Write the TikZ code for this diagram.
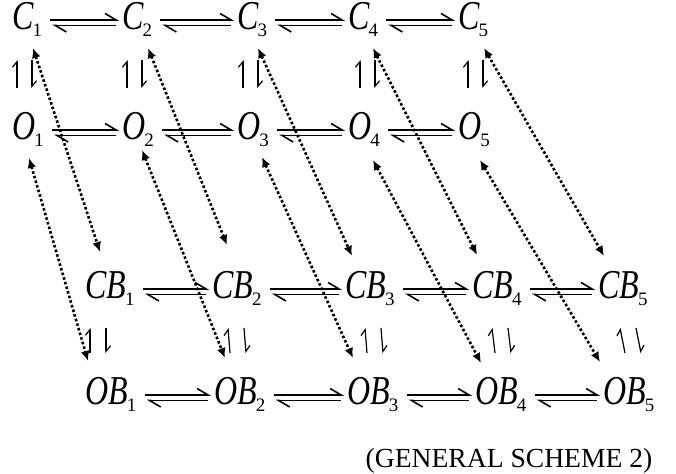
\documentclass[tikz,border=0pt]{standalone}
\usepackage{fontspec}
\setmainfont{Liberation Serif}
\newfontfamily\specfont{Liberation Serif}[FakeStretch=0.78]
\usetikzlibrary{arrows.meta, calc, positioning}

\newcommand{\spec}[2]{{\itshape #1}\kern-0.6pt\raisebox{-3.5pt}{\rmfamily\fontsize{9.5}{10}\selectfont #2}}

\tikzset{
  species/.style={inner sep=0pt, anchor=base west, font=\specfont\fontsize{20.5}{25}\selectfont},
  fwdharp/.style={-{Straight Barb[left,length=5.5pt,width=6.5pt]}, line width=0.8pt},
  vharp/.style={-{Straight Barb[left,length=2.8pt,width=4.6pt]}, line width=0.6pt},
  dotarrow/.style={{Latex[length=5pt,width=4.4pt]}-{Latex[length=5pt,width=4.4pt]}, line width=1.3pt, dash pattern=on 1.3pt off 1.1pt}
}

\begin{document}
\begin{tikzpicture}[x=0.5pt, y=-0.5pt]
\useasboundingbox (0,0) rectangle (676,474);

% the four rows of species
\foreach \i/\x in {1/12,2/122,3/237,4/348,5/458} {
  \node [species] (C\i) at (\x,30)  {\spec{C}{\i}};
  \node [species] (O\i) at (\x,140) {\spec{O}{\i}};
}
\foreach \i/\x/\xx in {1/85/85,2/212/214,3/345/347,4/472/475,5/598/603} {
  \node [species] (CB\i) at (\x,299)  {\spec{CB}{\i}};
  \node [species] (OB\i) at (\xx,405) {\spec{OB}{\i}};
}

% horizontal equilibria
\foreach \r in {C,O,CB,OB} {
  \foreach \i [evaluate=\i as \j using int(\i+1)] in {1,...,4} {
    \draw [fwdharp] ($(\r\i.base east)+(8,-10)$) -- ($(\r\j.base west)+(-3,-10)$);
    \draw [fwdharp] ($(\r\j.base west)+(-6,-4.5)$) -- ($(\r\i.base east)+(10,-4.5)$);
  }
}

% vertical equilibria
\foreach \i/\d in {1/5,2/5,3/6,4/12,5/10} {
  \draw [vharp] ($(O\i.base west)+(\d,-52)$) -- ($(C\i.base west)+(\d,30)$);
  \draw [vharp] ($(C\i.base west)+(\d+15,30)$) -- ($(O\i.base west)+(\d+15,-52)$);
}
\foreach \i/\d in {1/5,2/16,3/20,4/20,5/22} {
  \draw [vharp] ($(OB\i.base west)+(\d,-52)$) -- ($(CB\i.base west)+(\d,29)$);
  \draw [vharp] ($(CB\i.base west)+(\d+16,29)$) -- ($(OB\i.base west)+(\d+16,-52)$);
}

% dotted links to the B states
\foreach \i/\a/\b/\c/\d in {1/21/18/15/-47,2/26/18/15/-54,3/21/18/7/-43,4/25/18/5/-44,5/26/18/6/-43} {
  \draw [dotarrow] ($(C\i.base west)+(\a,\b)$) -- ($(CB\i.base west)+(\c,\d)$);
}
\foreach \i/\a/\b/\c/\d in {1/17/18/3/-44,2/20/10/11/-47,3/25/17/6/-47,4/25/20/6/-42,5/22/20/-3/-43} {
  \draw [dotarrow] ($(O\i.base west)+(\a,\b)$) -- ($(OB\i.base west)+(\c,\d)$);
}

\node [font=\fontsize{13.8}{16}\selectfont, anchor=base] (caption) at (509,468) {(GENERAL SCHEME 2)};
\end{tikzpicture}
\end{document}
